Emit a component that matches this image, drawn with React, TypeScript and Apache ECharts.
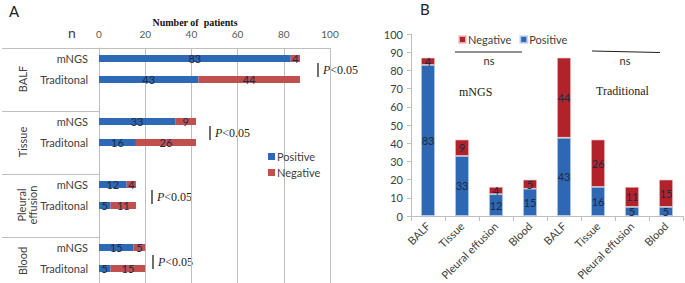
import React, { useEffect, useRef } from "react";
import * as echarts from "echarts";

const groups = ["BALF", "Tissue", "Pleural effusion", "Blood"];
const methods = ["mNGS", "Traditonal"];
const mngsPositive = [83, 33, 12, 15];
const mngsNegative = [4, 9, 4, 5];
const tradPositive = [43, 16, 5, 5];
const tradNegative = [44, 26, 11, 15];
const xTicksA = [0, 20, 40, 60, 80, 100];
const pLabel = "P<0.05";

const BLUE_A = "#2E69B5";
const RED_A = "#C0504D";
const BLUE_B = "#2E67B3";
const RED_B = "#B2222A";
const LABEL = "#1d2a45";
const FONT = "Lato, 'Open Sans', sans-serif";
const SERIF = "'Liberation Serif', 'DejaVu Serif', serif";

export default function App() {
  const ref = useRef<HTMLDivElement>(null);
  useEffect(() => {
    if (!ref.current) return;
    const chart = echarts.init(ref.current, undefined, { renderer: "svg" });

    const catA: string[] = [];
    const posA: (number | string)[] = [];
    const negA: (number | string)[] = [];
    groups.forEach((_, gi) => {
      catA.push(methods[0], methods[1], "");
      posA.push(mngsPositive[gi], tradPositive[gi], "-");
      negA.push(mngsNegative[gi], tradNegative[gi], "-");
    });

    const catB = [...groups, ...groups];
    const posB = [...mngsPositive, ...tradPositive];
    const negB = [...mngsNegative, ...tradNegative];

    const barLabel = {
      show: true,
      position: "inside" as const,
      color: LABEL,
      fontSize: 11,
      fontFamily: FONT,
    };

    const gLeft = 99;
    const gTop = 48;
    const slot = 21;
    const gWidth = 231;

    const graphics: any[] = [];
    graphics.push({
      type: "text", left: 9, top: 3,
      style: { text: "A", fontSize: 15, fontFamily: FONT, fill: "#222" },
    });
    graphics.push({
      type: "text", left: 420, top: 1,
      style: { text: "B", fontSize: 15, fontFamily: FONT, fill: "#222" },
    });
    graphics.push({
      type: "text", x: 195, y: 22,
      style: {
        text: "Number of  patients", fontSize: 10, fontWeight: "bold",
        fontFamily: SERIF, fill: "#111", align: "center", verticalAlign: "middle",
      },
    });
    graphics.push({
      type: "text", x: 72, y: 32,
      style: { text: "n", fontSize: 14, fontFamily: FONT, fill: "#404040", align: "center", verticalAlign: "middle" },
    });
    const sepStyle = { stroke: "#bfbfbf", lineWidth: 1 };
    for (let g = 0; g < groups.length; g++) {
      const y = gTop + g * slot * 3;
      graphics.push({
        type: "line",
        shape: { x1: 2, y1: y + 0.5, x2: gLeft, y2: y + 0.5 },
        style: sepStyle,
      });
      const isPleural = groups[g].indexOf(" ") >= 0;
      const cy = y + (g === 3 ? 24 : 31);
      graphics.push({
        type: "text",
        x: isPleural ? 27 : 22,
        y: cy,
        rotation: Math.PI / 2,
        style: {
          text: groups[g].replace(" ", "\n"),
          fontSize: 11, fontFamily: FONT, fill: "#404040",
          align: "center", verticalAlign: "middle", lineHeight: 11,
        },
      });
    }
    const pMarks = [
      { x: 318, y: 70 },
      { x: 210, y: 133 },
      { x: 152, y: 197 },
      { x: 153, y: 262 },
    ];
    pMarks.forEach((p) => {
      graphics.push({
        type: "line",
        shape: { x1: p.x, y1: p.y - 7, x2: p.x, y2: p.y + 7 },
        style: { stroke: "#222", lineWidth: 1.3 },
      });
      graphics.push({
        type: "text", x: p.x + 5, y: p.y,
        style: {
          text: "{i|P}{n|" + pLabel.slice(1) + "}",
          verticalAlign: "middle",
          rich: {
            i: { fontSize: 12, fontStyle: "italic", fontFamily: SERIF, fill: "#222" },
            n: { fontSize: 12, fontFamily: SERIF, fill: "#222" },
          },
        },
      });
    });
    graphics.push({
      type: "line", shape: { x1: 455, y1: 52, x2: 522, y2: 52 },
      style: { stroke: "#222", lineWidth: 1.2 },
    });
    graphics.push({
      type: "line", shape: { x1: 592, y1: 51, x2: 660, y2: 52.5 },
      style: { stroke: "#222", lineWidth: 1.2 },
    });
    graphics.push({
      type: "text", x: 489, y: 60,
      style: { text: "ns", fontSize: 11, fontFamily: FONT, fill: "#333", align: "center", verticalAlign: "middle" },
    });
    graphics.push({
      type: "text", x: 625, y: 60,
      style: { text: "ns", fontSize: 11, fontFamily: FONT, fill: "#333", align: "center", verticalAlign: "middle" },
    });
    graphics.push({
      type: "text", x: 459, y: 92,
      style: { text: methods[0], fontSize: 12, fontFamily: SERIF, fill: "#222", verticalAlign: "middle" },
    });
    graphics.push({
      type: "text", x: 596, y: 91,
      style: { text: "Traditional", fontSize: 12, fontFamily: SERIF, fill: "#222", verticalAlign: "middle" },
    });

    chart.setOption({
      animation: false,
      backgroundColor: "#fff",
      textStyle: { fontFamily: FONT },
      grid: [
        { left: gLeft, top: gTop, width: gWidth, height: slot * catA.length, outerBoundsMode: "none", containLabel: false },
        { left: 411, top: 34, width: 272, height: 182, outerBoundsMode: "none", containLabel: false },
      ],
      legend: [
        {
          data: ["Positive", "Negative"],
          orient: "vertical", left: 268, top: 151, padding: 0,
          itemWidth: 7, itemHeight: 7, itemGap: 5,
          icon: "rect",
          textStyle: { fontSize: 11, color: "#404040", padding: [0, 0, 0, -3] },
          formatter: (n: string) => n.trim(),
        },
        {
          data: ["Negative ", "Positive "],
          orient: "horizontal", left: 458, top: 34, padding: 0,
          itemWidth: 7, itemHeight: 7, itemGap: 8,
          icon: "rect",
          textStyle: { fontSize: 11, color: "#404040", padding: [0, 0, 0, -3] },
          formatter: (n: string) => n.trim(),
        },
      ],
      xAxis: [
        {
          gridIndex: 0, type: "value", position: "top",
          min: xTicksA[0], max: xTicksA[xTicksA.length - 1], interval: 20,
          axisLine: { show: true, lineStyle: { color: "#bfbfbf" } },
          axisTick: { show: false },
          axisLabel: { fontSize: 10, color: "#595959", margin: 9 },
          splitLine: { show: true, lineStyle: { color: "#bfbfbf" } },
        },
        {
          gridIndex: 1, type: "category", data: catB,
          axisLine: { show: true, lineStyle: { color: "#bfbfbf" } },
          axisTick: { show: true, length: 5, lineStyle: { color: "#bfbfbf" } },
          axisLabel: { rotate: 45, fontSize: 11, color: "#404040", margin: 8, interval: 0 },
        },
      ],
      yAxis: [
        {
          gridIndex: 0, type: "category", data: catA, inverse: true,
          axisLine: { show: true, lineStyle: { color: "#bfbfbf" } },
          axisTick: { show: false },
          axisLabel: { fontSize: 11, color: "#404040", margin: 11, interval: 0 },
        },
        {
          gridIndex: 1, type: "value", min: 0, max: 100, interval: 10,
          axisLine: { show: true, lineStyle: { color: "#bfbfbf" } },
          axisTick: { show: true, length: 4, lineStyle: { color: "#bfbfbf" } },
          axisLabel: { fontSize: 11, color: "#404040", margin: 8 },
          splitLine: { show: false },
        },
      ],
      series: [
        {
          name: "Positive", type: "bar", xAxisIndex: 0, yAxisIndex: 0, stack: "a",
          data: posA, barWidth: 7, itemStyle: { color: BLUE_A }, label: barLabel,
        },
        {
          name: "Negative", type: "bar", xAxisIndex: 0, yAxisIndex: 0, stack: "a",
          data: negA, barWidth: 7, itemStyle: { color: RED_A }, label: barLabel,
        },
        {
          name: "Positive ", type: "bar", xAxisIndex: 1, yAxisIndex: 1, stack: "b",
          data: posB, barWidth: 14,
          itemStyle: { color: BLUE_B, borderColor: "rgba(200,215,240,0.8)", borderWidth: 0.8 },
          label: barLabel,
        },
        {
          name: "Negative ", type: "bar", xAxisIndex: 1, yAxisIndex: 1, stack: "b",
          data: negB, barWidth: 14,
          itemStyle: { color: RED_B, borderColor: "rgba(240,200,200,0.8)", borderWidth: 0.8 },
          label: barLabel,
        },
      ],
      graphic: graphics,
    });
    return () => chart.dispose();
  }, []);

  return (
    <div
      ref={ref}
      style={{ position: "fixed", left: 0, top: 0, width: 685, height: 283, background: "#fff" }}
    />
  );
}
